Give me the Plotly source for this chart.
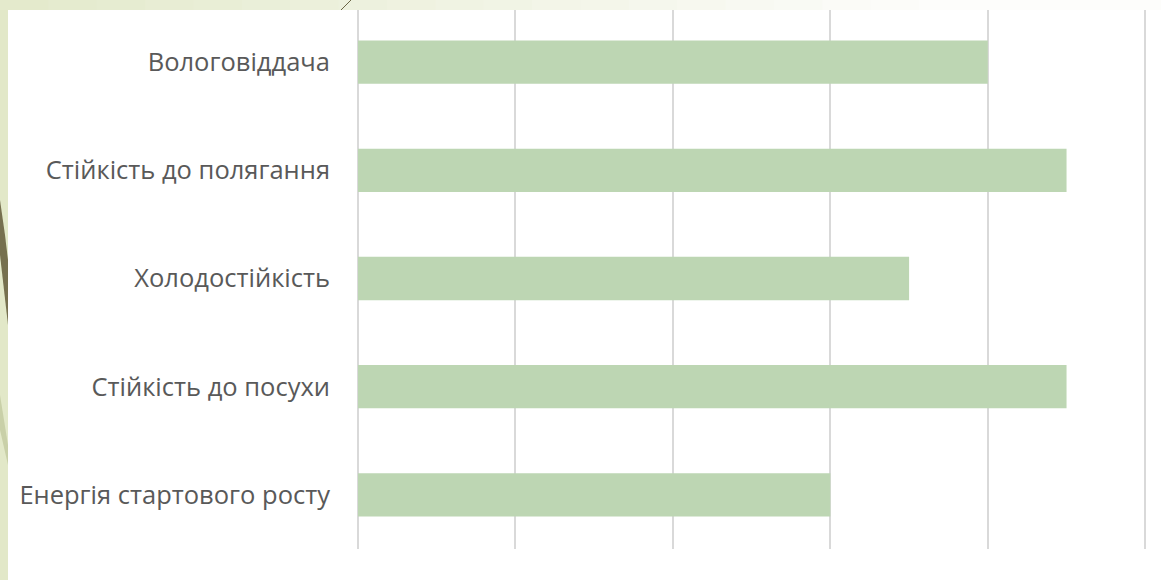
import plotly.graph_objects as go

categories = ["Енергія стартового росту", "Стійкість до посухи", "Холодостійкість",
              "Стійкість до полягання", "Вологовіддача"]
values = [3, 4.5, 3.5, 4.5, 4]

W, H = 1161, 580
ML, MR, MT, MB = 358, 11, 8, 31
PW, PH = W - ML - MR, H - MT - MB


def px_x(p):
    return (p - ML) / PW


def px_y(p):
    return (H - MB - p) / PH


def mix(c1, c2, t):
    a = [int(c1[i:i + 2], 16) for i in (1, 3, 5)]
    b = [int(c2[i:i + 2], 16) for i in (1, 3, 5)]
    return "#" + "".join(f"{round(a[k] + (b[k] - a[k]) * t):02x}" for k in range(3))


fig = go.Figure(go.Bar(
    y=categories, x=values, orientation="h",
    marker=dict(color="#bdd6b3", line=dict(width=0)),
    hoverinfo="skip",
))

shapes = []
# top strip gradient (slide background)
steps = 24
for i in range(steps):
    x0 = i * W / steps
    x1 = (i + 1) * W / steps + 1
    t = min(1.0, (i + 0.5) / steps * 1.25)
    shapes.append(dict(type="rect", xref="paper", yref="paper",
                       x0=px_x(x0), x1=px_x(x1), y0=px_y(10), y1=px_y(-2),
                       fillcolor=mix("#e3e9cb", "#fdfdfb", t), line=dict(width=0), layer="above"))
# left strip
shapes.append(dict(type="rect", xref="paper", yref="paper", x0=px_x(-2), x1=px_x(8),
                   y0=px_y(H + 2), y1=px_y(10), fillcolor="#e2e8c8", line=dict(width=0), layer="below"))
# white panel
shapes.append(dict(type="rect", xref="paper", yref="paper", x0=px_x(8), x1=px_x(W + 5),
                   y0=px_y(H + 5), y1=px_y(10), fillcolor="white", line=dict(width=0), layer="below"))
# decorative leaf strokes
shapes.append(dict(type="path", xref="paper", yref="paper",
                   path=(f"M {px_x(0)},{px_y(200)} L {px_x(5)},{px_y(235)} L {px_x(8)},{px_y(260)} "
                         f"L {px_x(8)},{px_y(325)} L {px_x(4)},{px_y(290)} L {px_x(0)},{px_y(255)} Z"),
                   fillcolor="#76704f", line=dict(width=0), layer="below"))
shapes.append(dict(type="path", xref="paper", yref="paper",
                   path=(f"M {px_x(0)},{px_y(395)} L {px_x(8)},{px_y(445)} L {px_x(8)},{px_y(465)} "
                         f"L {px_x(0)},{px_y(430)} Z"),
                   fillcolor="#c9d0a8", line=dict(width=0), layer="below"))
shapes.append(dict(type="line", xref="paper", yref="paper", x0=px_x(341), x1=px_x(351),
                   y0=px_y(10), y1=px_y(0), line=dict(color="#6b6646", width=1), layer="above"))

fig.update_layout(
    width=W, height=H,
    margin=dict(l=ML, r=MR, t=MT, b=MB),
    paper_bgcolor="#e3e9cb",
    plot_bgcolor="white",
    bargap=0.6,
    showlegend=False,
    shapes=shapes,
    font=dict(family="Open Sans, Noto Sans, sans-serif", color="#595959", size=25.5),
    xaxis=dict(range=[0, 5.03], tickvals=[0, 1, 2, 3, 4, 5], showticklabels=False, showgrid=True,
               gridcolor="#d9d9d9", gridwidth=2, zeroline=True, zerolinecolor="#d9d9d9",
               zerolinewidth=2, showline=False, fixedrange=True),
    yaxis=dict(showgrid=False, ticks="", ticklabelstandoff=27, showline=False,
               tickfont=dict(size=25.5, color="#595959"), fixedrange=True),
)

fig.write_html("out.html", config={"displayModeBar": False},
               post_script="document.body.style.margin='0';document.body.style.overflow='hidden';")
